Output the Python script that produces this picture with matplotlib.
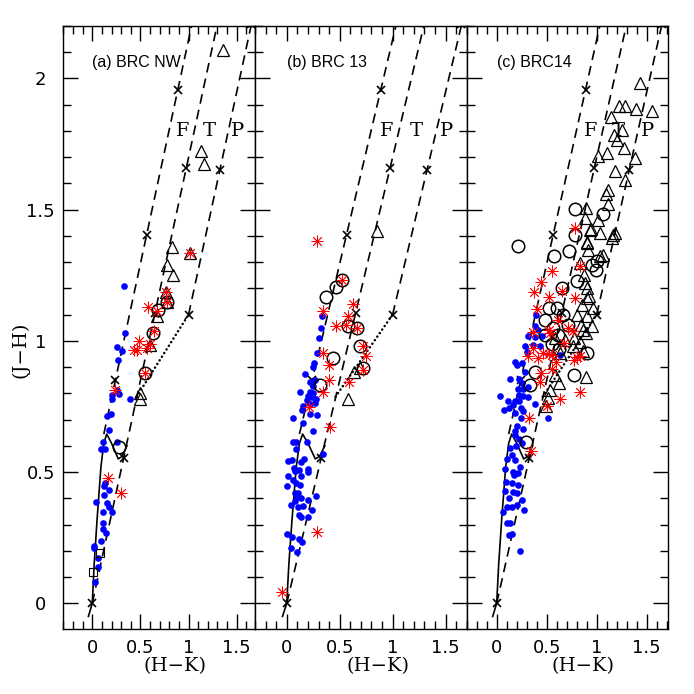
import matplotlib
matplotlib.use('Agg')
import matplotlib.pyplot as plt
import matplotlib.transforms as mtransforms
from matplotlib.ticker import MultipleLocator, FixedLocator

plt.rcParams['lines.scale_dashes'] = False

# ---- intrinsic loci / reddening lines (H-K, J-H) ----
dwarf_hk = [-0.04, 0.0, 0.02, 0.05, 0.09, 0.12, 0.15, 0.20, 0.27, 0.31, 0.36]
dwarf_jh = [-0.05, 0.0, 0.15, 0.32, 0.52, 0.61, 0.645, 0.61, 0.55, 0.56, 0.60]
ctts_hk = [0.46, 1.00]
ctts_jh = [0.787, 1.10]
redF_hk = [0.12, 1.06]
redF_jh = [0.645, 2.25]
redT_hk = [0.0, 1.33]
redT_jh = [0.0, 2.26]
redP_hk = [1.0, 1.69]
redP_jh = [1.10, 2.27]
markF_hk = [0.24, 0.565, 0.89]
markF_jh = [0.85, 1.403, 1.956]
markT_hk = [0.0, 0.325, 0.65, 0.975, 1.30]
markT_jh = [0.0, 0.553, 1.106, 1.659, 2.212]
markP_hk = [1.0, 1.325, 1.65]
markP_jh = [1.10, 1.653, 2.206]

# ---- (a) BRC NW ----
a_blue_hk = [0.329, 0.34, 0.26, 0.31, 0.264, 0.253, 0.201, 0.277, 0.208, 0.39, 0.191, 0.156, 0.177,
             0.108, 0.253, 0.087, 0.132, 0.132, 0.121, 0.177, 0.125, 0.038, 0.15, 0.177, 0.108,
             0.201, 0.108, 0.108, 0.139, 0.093, 0.021, 0.021, 0.062, 0.062, 0.028]
a_blue_jh = [1.211, 1.03, 0.975, 0.963, 0.928, 0.813, 0.794, 0.797, 0.779, 0.779, 0.722, 0.715, 0.661,
             0.616, 0.616, 0.587, 0.587, 0.458, 0.447, 0.432, 0.412, 0.385, 0.384, 0.366, 0.347,
             0.347, 0.305, 0.283, 0.267, 0.238, 0.218, 0.21, 0.172, 0.137, 0.08]
a_star_hk = [1.015, 0.765, 0.773, 0.58, 0.668, 0.644, 0.6, 0.485, 0.433, 0.467, 0.571, 0.547, 0.236, 0.166, 0.298]
a_star_jh = [1.335, 1.185, 1.15, 1.131, 1.115, 1.036, 0.99, 1.0, 0.966, 0.966, 0.972, 0.877, 0.813, 0.477, 0.419]
a_circ_hk = [0.773, 0.685, 0.633, 0.547, 0.28]
a_circ_jh = [1.15, 1.119, 1.03, 0.877, 0.597]
a_tri_hk = [1.354, 1.129, 1.16, 0.824, 0.772, 0.835, 0.773, 1.015, 0.765, 0.6, 0.495, 0.495, 0.668]
a_tri_jh = [2.108, 1.722, 1.674, 1.358, 1.29, 1.252, 1.15, 1.335, 1.185, 0.985, 0.80, 0.78, 1.093]
a_sq_hk = [0.08, 0.004]
a_sq_jh = [0.193, 0.118]

# ---- (b) BRC 13 ----
b_blue_hk = [0.331, 0.325, 0.309, 0.29, 0.261, 0.252, 0.173, 0.268, 0.22, 0.246, 0.126, 0.22, 0.236,
             0.189, 0.268, 0.22, 0.157, 0.142, 0.22, 0.29, 0.063, 0.157, 0.246, 0.063, 0.088, 0.195,
             0.085, 0.167, 0.34, 0.015, 0.053, 0.069, 0.079, 0.132, 0.119, 0.199, 0.2, 0.012, 0.057,
             0.132, 0.0, 0.085, 0.126, 0.082, 0.11, 0.135, 0.095, 0.082, 0.277, 0.041, 0.204, 0.157,
             0.11, 0.236, 0.204, 0.119, 0.132, 0.0, 0.053, 0.119, 0.142, 0.041, 0.095, 0.25, 0.28, 0.2]
b_blue_jh = [1.093, 1.049, 1.011, 0.953, 0.915, 0.9, 0.873, 0.852, 0.845, 0.829, 0.807, 0.807, 0.788,
             0.773, 0.763, 0.76, 0.752, 0.735, 0.722, 0.716, 0.706, 0.687, 0.658, 0.614, 0.614, 0.614,
             0.587, 0.55, 0.569, 0.543, 0.547, 0.515, 0.506, 0.538, 0.508, 0.511, 0.502, 0.486, 0.468,
             0.486, 0.447, 0.458, 0.451, 0.42, 0.42, 0.40, 0.404, 0.388, 0.41, 0.375, 0.394, 0.371,
             0.368, 0.356, 0.33, 0.337, 0.33, 0.264, 0.254, 0.245, 0.235, 0.21, 0.197, 0.80, 0.78, 0.79]
b_star_hk = [0.29, 0.52, 0.63, 0.34, 0.583, 0.561, 0.466, 0.662, 0.725, 0.75, 0.346, 0.403, 0.719,
             0.403, 0.592, 0.346, 0.214, 0.41, 0.284, -0.047]
b_star_jh = [1.379, 1.233, 1.14, 1.112, 1.093, 1.061, 1.055, 1.05, 0.979, 0.944, 0.953, 0.909, 0.89,
             0.852, 0.845, 0.807, 0.748, 0.67, 0.273, 0.044]
b_circ_hk = [0.52, 0.466, 0.369, 0.583, 0.662, 0.693, 0.719, 0.441, 0.315]
b_circ_jh = [1.233, 1.205, 1.166, 1.055, 1.051, 0.982, 0.896, 0.934, 0.83]
b_tri_hk = [0.857, 0.693, 0.578, 0.64]
b_tri_jh = [1.42, 0.896, 0.78, 0.88]

# ---- (c) BRC14 ----
c_blue_hk = [0.393, 0.383, 0.416, 0.316, 0.383, 0.45, 0.283, 0.366, 0.433, 0.30, 0.633,
             0.183, 0.20, 0.25, 0.283, 0.133, 0.226, 0.25, 0.266, 0.216, 0.316, 0.226, 0.033, 0.266,
             0.31, 0.11, 0.183, 0.226, 0.166, 0.383, 0.073, 0.126, 0.24, 0.266, 0.183, 0.24, 0.51,
             0.206, 0.183, 0.266, 0.183, 0.226, 0.25,
             0.15, 0.10, 0.183, 0.233, 0.083, 0.16, 0.216, 0.173, 0.093, 0.15, 0.216, 0.083, 0.166,
             0.20, 0.126, 0.25, 0.20, 0.15, 0.10, 0.066, 0.273, 0.10, 0.133, 0.126, 0.15, 0.233,
             0.13, 0.19]
c_blue_jh = [1.10, 1.055, 1.042, 1.02, 1.014, 1.017, 0.981, 0.985, 0.981, 0.956, 0.947,
             0.918, 0.909, 0.915, 0.883, 0.854, 0.854, 0.839, 0.816, 0.816, 0.824, 0.794, 0.791, 0.791,
             0.788, 0.769, 0.771, 0.769, 0.756, 0.76, 0.737, 0.744, 0.744, 0.731, 0.725, 0.706, 0.706,
             0.674, 0.658, 0.664, 0.642, 0.626, 0.61,
             0.566, 0.549, 0.547, 0.521, 0.511, 0.502, 0.496, 0.489, 0.464, 0.46, 0.451, 0.429, 0.426,
             0.42, 0.40, 0.394, 0.375, 0.368, 0.368, 0.349, 0.356, 0.305, 0.305, 0.26, 0.264, 0.20,
             0.59, 0.60]
c_star_hk = [0.783, 0.833, 0.55, 0.44, 0.373, 0.65, 0.526, 0.783, 0.40, 0.616, 0.716, 0.526, 0.766,
             0.673, 0.366, 0.526, 0.80, 0.316, 0.416, 0.466, 0.55, 0.593, 0.44, 0.433, 0.55, 0.776,
             0.833, 0.833, 0.633, 0.50, 0.326, 0.366, 0.533, 0.34]
c_star_jh = [1.43, 1.284, 1.265, 1.223, 1.185, 1.192, 1.167, 1.163, 1.121, 1.08, 1.049, 1.042, 1.036,
             0.992, 0.973, 0.95, 0.94, 0.941, 0.934, 0.953, 0.947, 0.918, 0.877, 0.845, 0.892, 0.928,
             0.941, 0.807, 0.778, 0.752, 0.706, 1.032, 1.03, 0.58]
c_circ_hk = [0.783, 1.06, 0.783, 0.726, 0.573, 1.0, 0.216, 0.65, 0.80, 0.993, 0.60, 0.526, 0.483,
             0.566, 0.483, 0.616, 0.90, 0.383, 0.333, 0.773, 0.293, 0.55, 0.66, 0.71, 0.62, 0.95]
c_circ_jh = [1.503, 1.485, 1.405, 1.341, 1.322, 1.303, 1.363, 1.201, 1.227, 1.271, 1.125, 1.125, 1.08,
             1.049, 1.023, 1.023, 0.953, 0.883, 0.833, 0.871, 0.613, 0.99, 1.10, 1.06, 0.97, 1.29]
c_tri_hk = [1.433, 1.226, 1.283, 1.393, 1.556, 1.14, 1.25, 1.173, 1.206, 1.273, 1.016, 1.1, 1.383,
            1.183, 1.283, 1.116, 1.093, 1.116, 0.893, 0.883, 1.016, 0.94, 1.033, 1.166, 0.9, 0.916,
            1.066, 1.15, 0.933, 1.183, 0.906, 1.033, 0.833, 0.906, 0.906, 0.85, 0.966, 0.906, 0.95,
            0.86, 0.773, 0.683, 0.833, 0.76, 0.866, 0.893, 0.626, 0.583, 0.533, 0.516, 0.493, 0.633,
            0.893, 0.583, 0.87, 0.88, 0.80, 0.84, 0.92]
c_tri_jh = [1.983, 1.894, 1.894, 1.884, 1.875, 1.853, 1.803, 1.786, 1.764, 1.735, 1.706, 1.716, 1.697,
            1.646, 1.614, 1.576, 1.561, 1.523, 1.506, 1.468, 1.462, 1.426, 1.411, 1.405, 1.377, 1.345,
            1.328, 1.392, 1.424, 1.411, 1.373, 1.325, 1.297, 1.201, 1.163, 1.138, 1.125, 1.093, 1.055,
            1.042, 1.011, 1.004, 0.994, 0.979, 0.96, 0.864, 0.839, 0.871, 0.811, 0.782, 0.752, 0.953,
            1.03, 1.011, 1.25, 1.22, 1.10, 1.06, 1.17]

panel_labels = ['(a) BRC NW', '(b) BRC 13', '(c) BRC14']
region_labels = ['F', 'T', 'P']
region_hk = [0.94, 1.22, 1.51]
region_jh = 1.80

SERIF = ['DejaVu Serif']
W = 694.0

fig = plt.figure(figsize=(6.94, 6.94), dpi=100)
rects = [(63, 192), (255, 211.7), (466.7, 201.6)]
xlims = [(-0.304, 1.69), (-0.30, 1.70), (-0.30, 1.716)]
bottom, height = 65 / W, 603 / W

panels = [
    (a_blue_hk, a_blue_jh, a_star_hk, a_star_jh, a_circ_hk, a_circ_jh, a_tri_hk, a_tri_jh, a_sq_hk, a_sq_jh),
    (b_blue_hk, b_blue_jh, b_star_hk, b_star_jh, b_circ_hk, b_circ_jh, b_tri_hk, b_tri_jh, [], []),
    (c_blue_hk, c_blue_jh, c_star_hk, c_star_jh, c_circ_hk, c_circ_jh, c_tri_hk, c_tri_jh, [], []),
]

for i, (data, (left, width), xl, lab) in enumerate(zip(panels, rects, xlims, panel_labels)):
    bh, bj, sh, sj, ch, cj, th, tj, qh, qj = data
    ax = fig.add_axes([left / W, bottom, width / W, height])
    ax.set_xlim(*xl)
    ax.set_ylim(-0.098, 2.2)

    # loci
    ax.plot(dwarf_hk, dwarf_jh, color='black', lw=1.2)
    for hk, jh in [(redF_hk, redF_jh), (redT_hk, redT_jh), (redP_hk, redP_jh)]:
        ax.plot(hk, jh, color='black', lw=1.2, dashes=(7, 4.5))
    ax.plot(ctts_hk, ctts_jh, color='black', lw=1.8, dashes=(0.1, 3.0), dash_capstyle='round')
    for hk, jh in [(markF_hk, markF_jh), (markT_hk, markT_jh), (markP_hk, markP_jh)]:
        ax.plot(hk, jh, ls='none', marker='x', ms=5.5, mew=1.2, color='black')

    # sources
    ax.plot(bh, bj, ls='none', marker='o', ms=4.8, color='#0000ff', mec='none')
    ax.plot(th, tj, ls='none', marker='^', ms=8, mfc='none', mec='black', mew=0.9)
    ax.plot(ch, cj, ls='none', marker='o', ms=9, mfc='none', mec='black', mew=1.1)
    ax.plot(sh, sj, ls='none', marker=(8, 2, 0), ms=8.5, color='red', mew=0.6)
    if qh:
        ax.plot(qh, qj, ls='none', marker='s', ms=5.5, mfc='none', mec='black', mew=0.8)

    ax.text(0.0, 2.06, lab, fontsize=11.5, family=['Liberation Sans', 'DejaVu Sans'],
            ha='left', va='center')
    for t, x in zip(region_labels, region_hk):
        ax.text(x, region_jh, t, fontsize=14, family=SERIF, ha='center', va='center')

    trans = mtransforms.blended_transform_factory(ax.transData, ax.transAxes)
    ax.text(0.86, -0.061, '(H\u2212K)', transform=trans, fontsize=14, family=SERIF,
            ha='center', va='center')

    ax.xaxis.set_major_locator(FixedLocator([0, 0.5, 1, 1.5]))
    ax.xaxis.set_minor_locator(MultipleLocator(0.1))
    ax.yaxis.set_major_locator(FixedLocator([0, 0.5, 1, 1.5, 2]))
    ax.yaxis.set_minor_locator(MultipleLocator(0.1))
    ax.set_xticklabels(['0', '0.5', '1', '1.5'])
    ax.tick_params(which='both', direction='in', top=True, right=True, width=1.0)
    ax.tick_params(which='major', length=10.5)
    ax.tick_params(which='minor', length=5.5)
    ax.tick_params(axis='x', pad=7, labelsize=13)
    if i == 0:
        ax.set_yticklabels(['0', '0.5', '1', '1.5', '2'])
        ax.tick_params(axis='y', pad=16, labelsize=13)
        for tl in ax.get_yticklabels():
            tl.set_horizontalalignment('center')
    else:
        ax.set_yticklabels([])
    for sp in ax.spines.values():
        sp.set_linewidth(1.0)

fig.text(20 / W, 1 - 350 / W, '(J\u2212H)', rotation=90, fontsize=14, family=SERIF,
         ha='center', va='center')

fig.savefig('out.png', dpi=100, facecolor='white')
